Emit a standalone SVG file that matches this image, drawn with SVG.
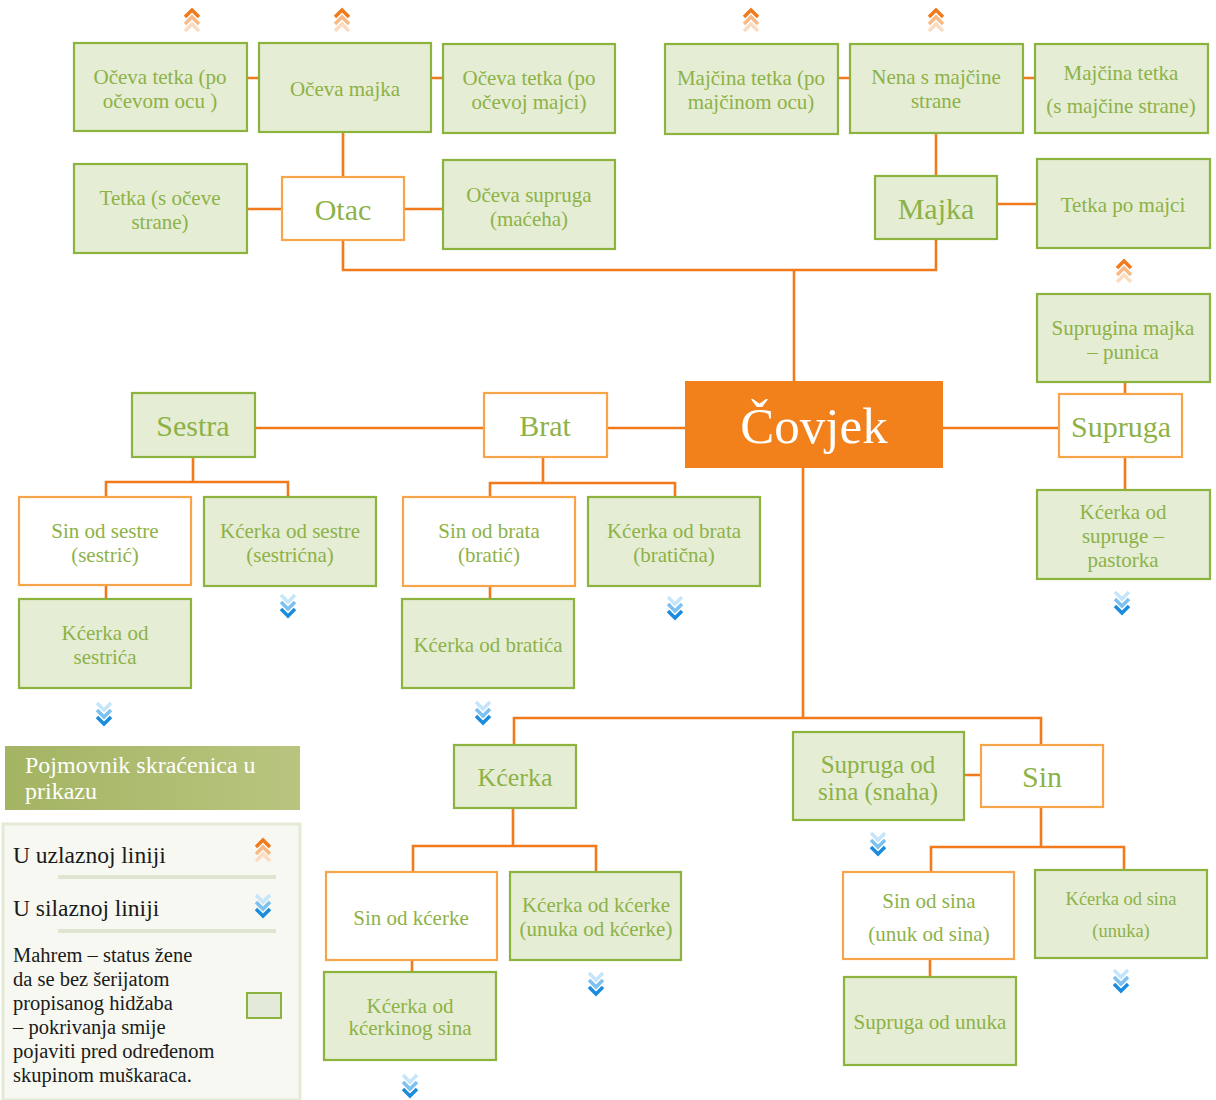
<svg xmlns="http://www.w3.org/2000/svg" width="1216" height="1100" viewBox="0 0 1216 1100">
<style>
.g{fill:#E5EDD5;stroke:#8DB33F;stroke-width:2.2}
.o{fill:#FFFFFF;stroke:#F7A54A;stroke-width:2.2}
.t{font-family:"Liberation Serif",serif;fill:#8DB247;text-anchor:middle}
.s19{font-size:21px}
.s17{font-size:18.5px}
.big{font-size:30px}
.c{fill:none;stroke:#F07A1C;stroke-width:2.6}
.lg{font-family:"Liberation Serif",serif;fill:#1a1a1a}
</style>
<defs>
<g id="up" fill="none" stroke-width="3.5">
<path d="M-7,10 L0,3 L7,10" stroke="#FCDCC0"/>
<path d="M-7,3 L0,-4 L7,3" stroke="#F8B985"/>
<path d="M-7,-4 L0,-11 L7,-4" stroke="#F07A1C"/>
</g>
<g id="down" fill="none" stroke-width="3.5">
<path d="M-7,-10 L0,-3 L7,-10" stroke="#C6E5FA"/>
<path d="M-7,-3 L0,4 L7,-3" stroke="#7DC1F0"/>
<path d="M-7,4 L0,11 L7,4" stroke="#1B8BDD"/>
</g>
<linearGradient id="hdr" x1="0" y1="0" x2="1" y2="0">
<stop offset="0" stop-color="#A3B463"/>
<stop offset="1" stop-color="#B9C57F"/>
</linearGradient>
</defs>
<rect width="1216" height="1100" fill="#FFFFFF"/>

<g id="connectors">
<path class="c" d="M247,78 H259 M431,78 H443 M838,78 H850 M1023,78 H1035"/>
<path class="c" d="M343,132 V177 M247,209 H282 M404,209 H443"/>
<path class="c" d="M936,133 V176 M997,204 H1037"/>
<path class="c" d="M343,240 V270 H936 V239 M794,270 V381"/>
<path class="c" d="M255,428 H484 M607,428 H685 M943,428 H1059"/>
<path class="c" d="M1125,382 V394 M1125,457 V490"/>
<path class="c" d="M193,457 V482 M106,497 V482 H288 V497 M106,585 V599"/>
<path class="c" d="M543,457 V483 M490,497 V483 H675 V497 M490,586 V599"/>
<path class="c" d="M803,468 V718 M514,745 V718 H1041 V745 M964,775 H981"/>
<path class="c" d="M513,808 V846 M413,872 V846 H596 V872 M412,960 V972"/>
<path class="c" d="M1041,807 V847 M931,872 V847 H1124 V870 M930,959 V977"/>
</g>

<g id="chevrons">
<use href="#up" x="192" y="21"/>
<use href="#up" x="342" y="21"/>
<use href="#up" x="751" y="21"/>
<use href="#up" x="936" y="21"/>
<use href="#up" x="1124" y="272"/>
<use href="#down" x="1122" y="602"/>
<use href="#down" x="288" y="605"/>
<use href="#down" x="104" y="713"/>
<use href="#down" x="675" y="607"/>
<use href="#down" x="483" y="712"/>
<use href="#down" x="878" y="843"/>
<use href="#down" x="596" y="983"/>
<use href="#down" x="410" y="1085"/>
<use href="#down" x="1121" y="980"/>
</g>

<g id="n-oceva-tetka-otac"><rect class="g" x="74" y="43" width="173" height="88"/><text class="t s19" x="160" y="84">Očeva tetka (po</text><text class="t s19" x="160" y="108">očevom ocu )</text></g>
<g id="n-oceva-majka"><rect class="g" x="259" y="43" width="172" height="89"/><text class="t s19" x="345" y="96">Očeva majka</text></g>
<g id="n-oceva-tetka-majka"><rect class="g" x="443" y="44" width="172" height="89"/><text class="t s19" x="529" y="85">Očeva tetka (po</text><text class="t s19" x="529" y="109">očevoj majci)</text></g>
<g id="n-majcina-tetka-otac"><rect class="g" x="665" y="44" width="173" height="90"/><text class="t s19" x="751" y="85">Majčina tetka (po</text><text class="t s19" x="751" y="109">majčinom ocu)</text></g>
<g id="n-nena"><rect class="g" x="850" y="44" width="173" height="89"/><text class="t s19" x="936" y="84">Nena s majčine</text><text class="t s19" x="936" y="108">strane</text></g>
<g id="n-majcina-tetka-majka"><rect class="g" x="1035" y="44" width="173" height="89"/><text class="t s19" x="1121" y="80">Majčina tetka</text><text class="t s19" x="1121" y="113">(s majčine strane)</text></g>

<g id="n-tetka-oceve"><rect class="g" x="74" y="164" width="173" height="89"/><text class="t s19" x="160" y="205">Tetka (s očeve</text><text class="t s19" x="160" y="229">strane)</text></g>
<g id="n-otac"><rect class="o" x="282" y="177" width="122" height="63"/><text class="t big" x="343" y="220">Otac</text></g>
<g id="n-maceha"><rect class="g" x="443" y="160" width="172" height="89"/><text class="t s19" x="529" y="202">Očeva supruga</text><text class="t s19" x="529" y="226">(maćeha)</text></g>
<g id="n-majka"><rect class="g" x="875" y="176" width="122" height="63"/><text class="t big" x="936" y="219">Majka</text></g>
<g id="n-tetka-po-majci"><rect class="g" x="1037" y="159" width="173" height="89"/><text class="t s19" x="1123" y="212">Tetka po majci</text></g>

<g id="n-punica"><rect class="g" x="1037" y="294" width="173" height="88"/><text class="t s19" x="1123" y="335">Suprugina majka</text><text class="t s19" x="1123" y="359">– punica</text></g>
<g id="n-covjek"><rect x="685" y="381" width="258" height="87" fill="#F2811C"/><text x="814" y="443" font-family="Liberation Serif,serif" font-size="51" fill="#FFFFFF" text-anchor="middle">Čovjek</text></g>
<g id="n-sestra"><rect class="g" x="132" y="393" width="123" height="64"/><text class="t big" x="193" y="436">Sestra</text></g>
<g id="n-brat"><rect class="o" x="484" y="393" width="123" height="64"/><text class="t big" x="545" y="436">Brat</text></g>
<g id="n-supruga"><rect class="o" x="1059" y="394" width="123" height="63"/><text class="t big" x="1121" y="437">Supruga</text></g>
<g id="n-pastorka"><rect class="g" x="1037" y="490" width="173" height="89"/><text class="t s19" x="1123" y="519">Kćerka od</text><text class="t s19" x="1123" y="543">supruge –</text><text class="t s19" x="1123" y="567">pastorka</text></g>

<g id="n-sestric"><rect class="o" x="19" y="497" width="172" height="88"/><text class="t s19" x="105" y="538">Sin od sestre</text><text class="t s19" x="105" y="562">(sestrić)</text></g>
<g id="n-sestricna"><rect class="g" x="204" y="497" width="172" height="89"/><text class="t s19" x="290" y="538">Kćerka od sestre</text><text class="t s19" x="290" y="562">(sestrićna)</text></g>
<g id="n-kcerka-sestrica"><rect class="g" x="19" y="599" width="172" height="89"/><text class="t s19" x="105" y="640">Kćerka od</text><text class="t s19" x="105" y="664">sestrića</text></g>

<g id="n-bratic"><rect class="o" x="403" y="497" width="172" height="89"/><text class="t s19" x="489" y="538">Sin od brata</text><text class="t s19" x="489" y="562">(bratić)</text></g>
<g id="n-braticna"><rect class="g" x="588" y="497" width="172" height="89"/><text class="t s19" x="674" y="538">Kćerka od brata</text><text class="t s19" x="674" y="562">(bratična)</text></g>
<g id="n-kcerka-bratica"><rect class="g" x="402" y="599" width="172" height="89"/><text class="t s19" x="488" y="652">Kćerka od bratića</text></g>

<g id="n-kcerka"><rect class="g" x="454" y="745" width="122" height="63"/><text class="t" font-size="26" x="515" y="786">Kćerka</text></g>
<g id="n-snaha"><rect class="g" x="793" y="732" width="171" height="88"/><text class="t" font-size="25" x="878" y="773">Supruga od</text><text class="t" font-size="25" x="878" y="800">sina (snaha)</text></g>
<g id="n-sin"><rect class="o" x="981" y="745" width="122" height="62"/><text class="t big" x="1042" y="787">Sin</text></g>

<g id="n-sin-kcerke"><rect class="o" x="326" y="872" width="171" height="88"/><text class="t s19" x="411" y="925">Sin od kćerke</text></g>
<g id="n-unuka-kcerke"><rect class="g" x="510" y="872" width="171" height="88"/><text class="t s19" x="596" y="912">Kćerka od kćerke</text><text class="t s19" x="596" y="936">(unuka od kćerke)</text></g>
<g id="n-kcerka-kcerkinog-sina"><rect class="g" x="324" y="972" width="172" height="88"/><text class="t s19" x="410" y="1013">Kćerka od</text><text class="t s19" x="410" y="1035">kćerkinog sina</text></g>

<g id="n-unuk"><rect class="o" x="843" y="872" width="171" height="87"/><text class="t s19" x="929" y="908">Sin od sina</text><text class="t s19" x="929" y="941">(unuk od sina)</text></g>
<g id="n-unuka"><rect class="g" x="1035" y="870" width="172" height="88"/><text class="t s17" x="1121" y="905">Kćerka od sina</text><text class="t s17" x="1121" y="937">(unuka)</text></g>
<g id="n-supruga-unuka"><rect class="g" x="844" y="977" width="172" height="88"/><text class="t s19" x="930" y="1029">Supruga od unuka</text></g>

<g id="legend">
<rect x="5" y="746" width="295" height="64" fill="url(#hdr)"/>
<text x="25" y="773" font-family="Liberation Serif,serif" font-size="24" fill="#FFFFFF">Pojmovnik skraćenica u</text>
<text x="25" y="799" font-family="Liberation Serif,serif" font-size="24" fill="#FFFFFF">prikazu</text>
<rect x="3" y="824" width="297" height="276" fill="#F6F8F1" stroke="#E3EAD6" stroke-width="3"/>
<text class="lg" x="13" y="863" font-size="23.5">U uzlaznoj liniji</text>
<use href="#up" x="263" y="851"/>
<line x1="58" y1="877" x2="276" y2="877" stroke="#DFE6D0" stroke-width="4"/>
<text class="lg" x="13" y="916" font-size="23.5">U silaznoj liniji</text>
<use href="#down" x="263" y="905"/>
<line x1="58" y1="931" x2="276" y2="931" stroke="#DFE6D0" stroke-width="4"/>
<text class="lg" x="13" y="962" font-size="20.5">Mahrem – status žene</text>
<text class="lg" x="13" y="986" font-size="20.5">da se bez šerijatom</text>
<text class="lg" x="13" y="1010" font-size="20.5">propisanog hidžaba</text>
<text class="lg" x="13" y="1034" font-size="20.5">– pokrivanja smije</text>
<text class="lg" x="13" y="1058" font-size="20.5">pojaviti  pred određenom</text>
<text class="lg" x="13" y="1082" font-size="20.5">skupinom muškaraca.</text>
<rect x="247" y="993" width="34" height="25" fill="#E3EAD8" stroke="#8DB33F" stroke-width="2"/>
</g>
</svg>
